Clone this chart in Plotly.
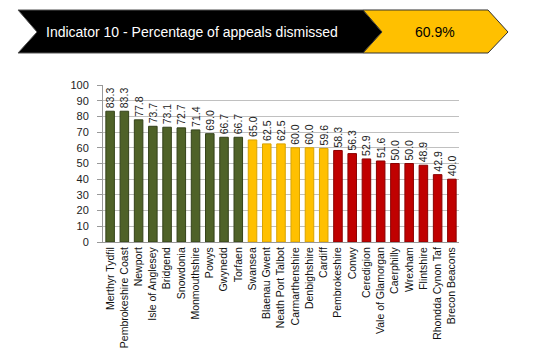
import plotly.graph_objects as go

categories = ["Merthyr Tydfil", "Pembrokeshire Coast", "Newport", "Isle of Anglesey", "Bridgend",
              "Snowdonia", "Monmouthshire", "Powys", "Gwynedd", "Torfaen", "Swansea",
              "Blaenau Gwent", "Neath Port Talbot", "Carmarthenshire", "Denbighshire", "Cardiff",
              "Pembrokeshire", "Conwy", "Ceredigion", "Vale of Glamorgan", "Caerphilly",
              "Wrexham", "Flintshire", "Rhondda Cynon Taf", "Brecon Beacons"]
values = [83.3, 83.3, 77.8, 73.7, 73.1, 72.7, 71.4, 69.0, 66.7, 66.7, 65.0,
          62.5, 62.5, 60.0, 60.0, 59.6, 58.3, 56.3, 52.9, 51.6, 50.0,
          50.0, 48.9, 42.9, 40.0]
bands = ["green"] * 10 + ["amber"] * 6 + ["red"] * 9
y_ticks = list(range(0, 101, 10))
title_text = "Indicator 10 - Percentage of appeals dismissed"
headline_value = "60.9%"

band_fill = {"green": "#4F6228", "amber": "#FFC000", "red": "#C00000"}
band_edge = {"green": "#34421a", "amber": "#d9a300", "red": "#8a0000"}

# page body has an 8px margin; layout expressed in reference pixel coords, shifted by OFF
OFF = 8
W, H = 552 - OFF, 364 - OFF
PLOT_X0, PLOT_X1, PLOT_Y0, PLOT_Y1 = 103, 459, 85, 242   # reference-pixel plot box
L, R = PLOT_X0 - OFF, W - (PLOT_X1 - OFF)
T, B = PLOT_Y0 - OFF, H - (PLOT_Y1 - OFF)


def px(x):
    return (x - PLOT_X0) / (PLOT_X1 - PLOT_X0)


def py(y):
    return (PLOT_Y1 - y) / (PLOT_Y1 - PLOT_Y0)


fig = go.Figure()
fig.add_trace(go.Bar(
    x=categories, y=values,
    marker=dict(color=[band_fill[b] for b in bands],
                line=dict(color=[band_edge[b] for b in bands], width=1)),
    texttemplate="%{y:.1f}", textposition="outside", textangle=-90,
    textfont=dict(family="Liberation Sans", size=10.5, color="#222"),
    cliponaxis=False, hoverinfo="skip",
))


def poly(points):
    return "M " + " L ".join(f"{px(a):.5f},{py(b):.5f}" for a, b in points) + " Z"


shapes = [
    dict(type="path", xref="paper", yref="paper",
         path=poly([(18, 10), (363, 10), (382, 32), (363, 53), (18, 53), (37, 32)]),
         fillcolor="#000000", line=dict(color="#555555", width=1), layer="above"),
    dict(type="path", xref="paper", yref="paper",
         path=poly([(363, 10), (488, 10), (508, 32), (488, 53), (363, 53), (382, 32)]),
         fillcolor="#FFC000", line=dict(color="#333333", width=1), layer="above"),
]
annotations = [
    dict(xref="paper", yref="paper", x=px(44), y=py(32), xanchor="left", yanchor="middle",
         text=title_text, showarrow=False,
         font=dict(family="Liberation Sans", size=14, color="#ffffff")),
    dict(xref="paper", yref="paper", x=px(435), y=py(32), xanchor="center", yanchor="middle",
         text=headline_value, showarrow=False,
         font=dict(family="Liberation Sans", size=14, color="#000000")),
]

fig.update_layout(
    width=W, height=H, margin=dict(l=L, r=R, t=T, b=B),
    paper_bgcolor="white", plot_bgcolor="white",
    bargap=0.4, showlegend=False,
    uniformtext=dict(minsize=10.5, mode="show"),
    shapes=shapes, annotations=annotations,
    xaxis=dict(tickangle=-90, tickfont=dict(family="Liberation Sans", size=10.5, color="#111"),
               showline=True, linecolor="#999", ticks="", showgrid=False),
    yaxis=dict(range=[0, 100], tickvals=y_ticks, showgrid=True, gridcolor="#c0c0c0",
               tickfont=dict(family="Liberation Sans", size=11, color="#222"),
               showline=True, linecolor="#999", ticks="outside", ticklen=5, tickcolor="#999",
               ticklabelstandoff=6, zeroline=False),
)
fig.write_html("out.html")
